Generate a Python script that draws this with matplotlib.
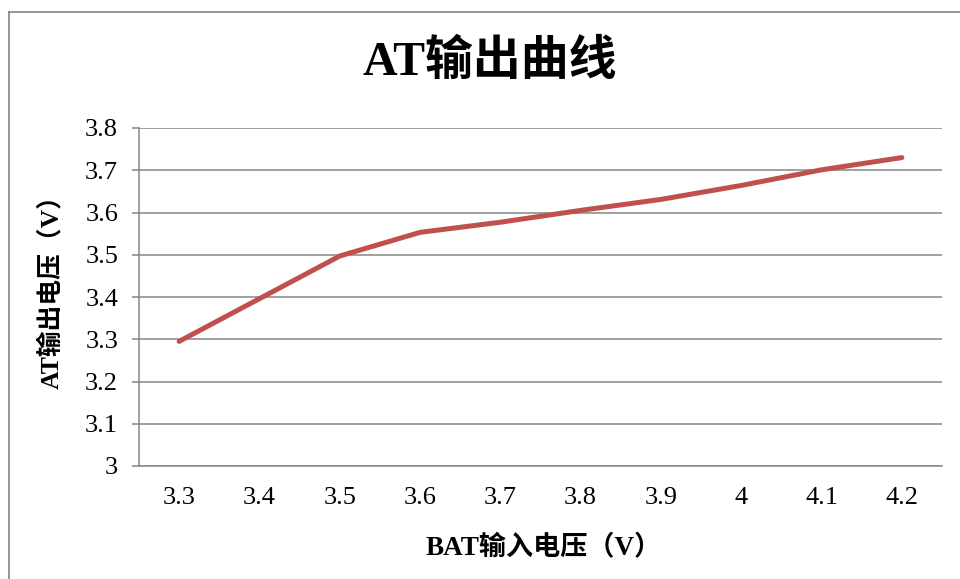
import matplotlib.pyplot as plt
from matplotlib.lines import Line2D

# Daten
bat_spannung = ["3.3", "3.4", "3.5", "3.6", "3.7", "3.8", "3.9", "4", "4.1", "4.2"]
at_spannung = [3.295, 3.396, 3.497, 3.553, 3.577, 3.605, 3.631, 3.664, 3.701, 3.730]
y_ticks = [3.0, 3.1, 3.2, 3.3, 3.4, 3.5, 3.6, 3.7, 3.8]
y_labels = ["3", "3.1", "3.2", "3.3", "3.4", "3.5", "3.6", "3.7", "3.8"]

titel = "AT输出曲线"
x_titel = "BAT输入电压（V）"
y_titel = "AT输出电压（V）"

plt.rcParams['font.family'] = ['Liberation Serif', 'Noto Sans CJK SC']

fig = plt.figure(figsize=(9.6, 5.79), dpi=100)
ax = fig.add_axes([139/960, 1-466/579, (942-139)/960, (466-128)/579])

grau = "#868686"
ax.plot(range(len(bat_spannung)), at_spannung, color="#C0504D", lw=3.6,
        solid_capstyle="round", solid_joinstyle="round", zorder=3)

ax.set_xlim(-0.5, len(bat_spannung) - 0.5)
ax.set_ylim(3.0, 3.8)
ax.set_xticks(range(len(bat_spannung)))
ax.set_xticklabels(bat_spannung)
ax.set_yticks(y_ticks)
ax.set_yticklabels(y_labels)
ax.yaxis.grid(True, color=grau, lw=1.1)
ax.set_axisbelow(True)

for s in ["top", "right"]:
    ax.spines[s].set_visible(False)
for s in ["left", "bottom"]:
    ax.spines[s].set_color(grau)
    ax.spines[s].set_linewidth(1.1)

ax.tick_params(axis="x", length=0, pad=15, labelsize=19)
ax.tick_params(axis="y", length=5, width=1.1, color=grau, pad=10, labelsize=19)

fig.text(490/960, 1-62/579, titel, ha="center", va="center",
         fontsize=34.5, fontweight="bold")
fig.text(544/960, 1-547/579, x_titel, ha="center", va="center",
         fontsize=19.5, fontweight="bold")
fig.text(51/960, 1-286/579, y_titel, ha="center", va="center",
         fontsize=18.5, fontweight="bold", rotation=90)

# Rahmen des Diagramms
fig.add_artist(Line2D([8.5/960, 8.5/960], [0, 1-12/579], color="#8c8c8c", lw=1.3))
fig.add_artist(Line2D([8.5/960, 1], [1-12/579, 1-12/579], color="#8c8c8c", lw=1.3))

plt.savefig("out.png", dpi=100)
